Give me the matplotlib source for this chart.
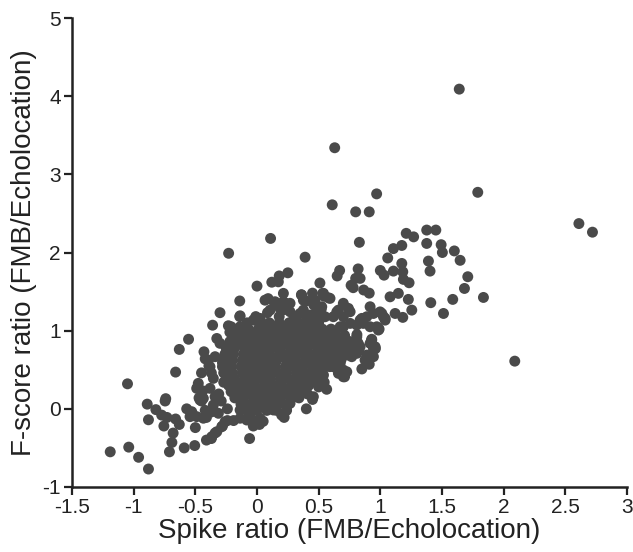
import matplotlib
matplotlib.use("Agg")
import matplotlib.pyplot as plt

plt.rcParams['font.family'] = ['Liberation Sans', 'DejaVu Sans']

# Sparse / edge points: (spike ratio, F-score ratio)
sparse_points = [
    (1.64, 4.09), (0.63, 3.34), (0.97, 2.75), (1.79, 2.77), (0.61, 2.61), (0.80, 2.52),
    (0.91, 2.52), (2.61, 2.37), (2.72, 2.26), (0.11, 2.18), (0.83, 2.13), (-0.23, 1.99),
    (0.39, 1.94), (2.09, 0.61), (-1.05, 0.32), (-1.19, -0.55), (-1.04, -0.49), (-0.96, -0.62),
    (-0.88, -0.77), (-0.89, 0.06), (-0.88, -0.14), (-0.82, -0.01), (-0.745, 0.10), (-0.74, 0.13),
    (-0.73, -0.11), (-0.755, -0.22), (-0.71, -0.55), (-0.68, -0.31), (-0.69, -0.43), (-0.66, 0.47),
    (-0.63, 0.76), (-0.66, -0.13), (-0.63, -0.20), (-0.59, -0.50), (-0.555, 0.89), (-0.57, 0.00),
    (-0.505, -0.47), (-0.50, -0.24), (-0.48, 0.28), (-0.45, 0.46), (-0.43, 0.73), (-0.41, -0.40),
    (-0.36, 1.07), (-0.30, 1.23), (-0.14, 1.38), (0.00, 1.57), (0.09, 1.41), (0.12, 1.62),
    (0.18, 1.70), (0.25, 1.74), (-0.06, -0.38), (0.22, -0.11), (0.565, 0.25), (0.40, 0.00),
    (0.45, 0.12), (0.51, 1.61), (0.545, 1.44), (0.67, 1.77), (0.65, 1.70), (0.82, 1.79),
    (0.78, 1.55), (0.85, 0.51), (0.91, 0.57), (0.96, 0.77), (0.93, 0.89), (0.99, 1.02),
    (1.00, 1.77), (1.03, 1.71), (1.06, 1.93), (1.106, 2.05), (1.174, 2.09), (1.21, 2.245),
    (1.27, 2.20), (1.376, 2.287), (1.45, 2.287), (1.376, 2.116), (1.493, 2.10), (1.503, 2.00),
    (1.60, 2.02), (1.647, 1.90), (1.709, 1.69), (1.682, 1.54), (1.836, 1.425), (1.587, 1.40),
    (1.512, 1.22), (1.409, 1.358), (1.39, 1.89), (1.403, 1.762), (1.106, 1.762), (1.174, 1.86),
    (1.182, 1.753), (1.187, 1.656), (1.233, 1.613), (0.836, 1.669), (0.865, 1.52), (0.91, 1.48),
    (1.079, 1.433), (1.146, 1.477), (1.227, 1.40), (1.255, 1.263), (1.12, 1.22), (1.182, 1.17),
    (0.917, 1.306), (0.89, 1.178), (0.862, 1.093), (0.944, 1.22), (1.012, 1.22), (1.039, 1.135),
    (0.984, 1.008), (0.93, 0.88), (0.944, 0.774), (0.89, 0.688), (0.836, 0.794),
    (0.80, 1.669), (0.763, 1.58), (0.70, 1.35), (0.741, 1.285), (0.647, 1.24), (0.592, 1.413),
    (0.533, 1.477), (0.362, 1.455), (0.376, 1.39), (0.214, 1.477), (0.268, 1.35), (0.187, 1.285),
    (0.457, 1.39), (0.525, 1.306), (0.471, 1.22), (0.552, 1.178), (0.349, 1.22), (0.403, 1.135),
    (0.295, 1.135), (0.70, 1.178), (0.755, 1.093), (0.674, 1.05), (0.836, 1.135), (0.917, 1.05),
    (0.971, 1.05), (0.998, 1.24), (1.025, 1.178), (1.039, 1.157), (0.984, 1.03), (0.958, 0.794),
    (0.85, 1.157), (0.809, 1.072), (0.755, 1.242), (0.66, 1.263), (0.619, 1.178), (0.70, 1.05),
    (0.471, 1.39), (0.539, 1.477), (0.511, 1.285), (0.268, 1.242), (0.376, 1.263), (0.43, 1.20),
    (0.498, 1.135), (0.809, 0.92), (0.822, 0.752), (0.768, 0.667), (0.876, 0.624), (0.944, 0.667),
    (0.173, 1.625), (-0.137, 1.19), (-0.232, 1.063), (0.106, 1.263), (-0.03, 1.135), (0.025, 1.157),
    (0.065, 1.072), (0.065, 1.39), (0.146, 1.37), (0.214, 1.37), (-0.137, 1.05), (-0.205, 1.008),
    (-0.11, 0.944), (-0.056, 0.88), (0.025, 0.794), (-0.30, 0.838), (-0.245, 0.774), (-0.34, 0.667),
    (-0.326, 0.90), (-0.476, 0.326), (-0.489, 0.262), (-0.395, 0.624), (-0.381, 0.538),
    (-0.354, 0.39), (-0.381, 0.262), (-0.34, 0.155), (-0.773, -0.08), (-0.529, -0.037),
    (-0.543, -0.10), (-0.489, -0.10), (-0.435, -0.12), (-0.462, 0.113), (-0.435, 0.134),
    (-0.367, -0.357), (-0.326, -0.293), (-0.286, -0.229), (-0.259, -0.165), (-0.354, -0.015),
    (-0.313, -0.057), (-0.354, 0.049), (-0.137, -0.12), (-0.083, -0.143), (-0.03, -0.165),
    (0.025, -0.12), (-0.056, -0.08), (-0.137, -0.015), (-0.11, 0.049), (0.079, 0.027),
    (0.133, -0.015), (0.20, -0.08), (0.70, 0.41), (0.728, 0.474), (0.457, 0.155), (0.268, 0.07),
    (0.322, 0.155), (0.349, 0.283), (0.484, 0.368), (0.539, 0.432), (0.62, 0.538), (0.674, 0.58),
    (0.917, 0.838), (0.903, 0.646), (0.809, 0.71), (0.728, 0.688), (0.70, 0.496), (0.66, 0.454),
    (0.295, 0.155), (0.241, 0.027), (0.349, 0.41), (0.457, 0.368), (0.511, 0.496),
    (-0.21, 1.05), (-0.22, 0.98), (-0.14, 1.18), (-0.42, 0.64), (-0.39, 0.55), (-0.37, 0.46),
    (-0.44, 0.23), (-0.47, 0.14), (-0.45, 0.10), (-0.42, -0.02), (-0.41, -0.11), (-0.37, -0.04),
    (-0.34, -0.31), (-0.37, -0.38), (-0.28, -0.22), (-0.24, -0.15), (-0.19, -0.15), (-0.24, 0.00),
    (-0.29, 0.10), (-0.31, 0.19), (-0.24, 0.73), (-0.28, 0.59), (-0.24, 0.46), (-0.27, 0.34),
    (0.14, 1.36), (0.22, 1.36), (0.22, 1.27), (0.36, 1.46), (0.45, 1.48), (0.40, 1.38),
    (0.46, 1.33), (0.52, 1.27), (0.58, 1.42), (0.41, 1.18), (0.31, 1.18), (0.18, 1.18),
    (0.085, 1.23), (-0.01, 1.18), (0.74, 0.86), (0.69, 0.73), (0.63, 0.55), (0.68, 0.50),
    (0.71, 0.41), (0.59, 0.68), (0.545, 0.77), (0.51, 0.46), (0.48, 0.37), (0.545, 0.34),
    (0.50, 0.28), (0.41, 0.19), (0.35, 0.23), (0.81, 0.95), (0.82, 0.84), (0.81, 0.73),
    (0.77, 0.77), (-0.05, -0.13), (0.00, -0.18), (0.02, -0.20), (-0.03, -0.22), (0.05, -0.16),
]

# Dense core of the cloud, read row by row from the solid region
core_rows_y = [1.10, 1.02, 0.94, 0.86, 0.78, 0.70, 0.62, 0.54, 0.46, 0.38, 0.30, 0.22, 0.14, 0.06, -0.02]
core_rows_x = [
    [-0.08, 0.02, 0.10, 0.18, 0.26, 0.34, 0.42, 0.50],
    [-0.15, -0.07, 0.01, 0.08, 0.15, 0.22, 0.29, 0.37, 0.45, 0.53, 0.60],
    [-0.20, -0.12, -0.04, 0.04, 0.11, 0.19, 0.26, 0.33, 0.41, 0.48, 0.56, 0.64, 0.71],
    [-0.22, -0.15, -0.08, 0.00, 0.07, 0.14, 0.22, 0.30, 0.37, 0.45, 0.52, 0.60, 0.68, 0.75],
    [-0.25, -0.18, -0.10, -0.03, 0.05, 0.12, 0.19, 0.27, 0.34, 0.41, 0.49, 0.57, 0.64, 0.72, 0.79],
    [-0.26, -0.19, -0.11, -0.04, 0.03, 0.10, 0.18, 0.25, 0.33, 0.40, 0.47, 0.55, 0.62, 0.70],
    [-0.27, -0.20, -0.12, -0.05, 0.02, 0.09, 0.16, 0.24, 0.31, 0.39, 0.46, 0.53, 0.61, 0.68],
    [-0.28, -0.21, -0.13, -0.06, 0.01, 0.08, 0.15, 0.23, 0.30, 0.37, 0.45, 0.52, 0.59],
    [-0.27, -0.20, -0.12, -0.05, 0.03, 0.10, 0.17, 0.24, 0.32, 0.39, 0.46, 0.53],
    [-0.25, -0.18, -0.10, -0.03, 0.04, 0.11, 0.19, 0.26, 0.33, 0.40, 0.47],
    [-0.23, -0.16, -0.09, -0.02, 0.06, 0.13, 0.20, 0.28, 0.35, 0.42],
    [-0.21, -0.14, -0.06, 0.01, 0.08, 0.15, 0.23, 0.30, 0.37],
    [-0.18, -0.11, -0.03, 0.04, 0.12, 0.19, 0.27, 0.34],
    [-0.13, -0.05, 0.02, 0.10, 0.17, 0.25],
    [-0.08, 0.00, 0.08, 0.16, 0.24],
]

spike_ratio = [p[0] for p in sparse_points]
fscore_ratio = [p[1] for p in sparse_points]
for yv, xs in zip(core_rows_y, core_rows_x):
    for xv in xs:
        spike_ratio.append(xv)
        fscore_ratio.append(yv)

x_ticks = [-1.5, -1, -0.5, 0, 0.5, 1, 1.5, 2, 2.5, 3]
x_tick_labels = ["-1.5", "-1", "-0.5", "0", "0.5", "1", "1.5", "2", "2.5", "3"]
y_ticks = [-1, 0, 1, 2, 3, 4, 5]
y_tick_labels = ["-1", "0", "1", "2", "3", "4", "5"]

fig = plt.figure(figsize=(6.33, 5.52), dpi=100)
ax = fig.add_axes([72 / 633, (552 - 487) / 552, 555 / 633, 469 / 552])
ax.scatter(spike_ratio, fscore_ratio, s=62, color="#4a4a4a", edgecolors="none", zorder=3)

ax.set_xlim(-1.5, 3)
ax.set_ylim(-1, 5)
ax.set_xticks(x_ticks)
ax.set_xticklabels(x_tick_labels)
ax.set_yticks(y_ticks)
ax.set_yticklabels(y_tick_labels)
for side in ["top", "right"]:
    ax.spines[side].set_visible(False)
for side in ["left", "bottom"]:
    ax.spines[side].set_linewidth(1.8)
    ax.spines[side].set_color("#222222")
ax.tick_params(direction="out", length=6, width=1.6, labelsize=15, pad=2, colors="#222222")
ax.set_xlabel("Spike ratio (FMB/Echolocation)", fontsize=20, labelpad=1, color="#222222")
ax.set_ylabel("F-score ratio (FMB/Echolocation)", fontsize=20, labelpad=4, color="#222222")

fig.savefig("out.png", dpi=100)
